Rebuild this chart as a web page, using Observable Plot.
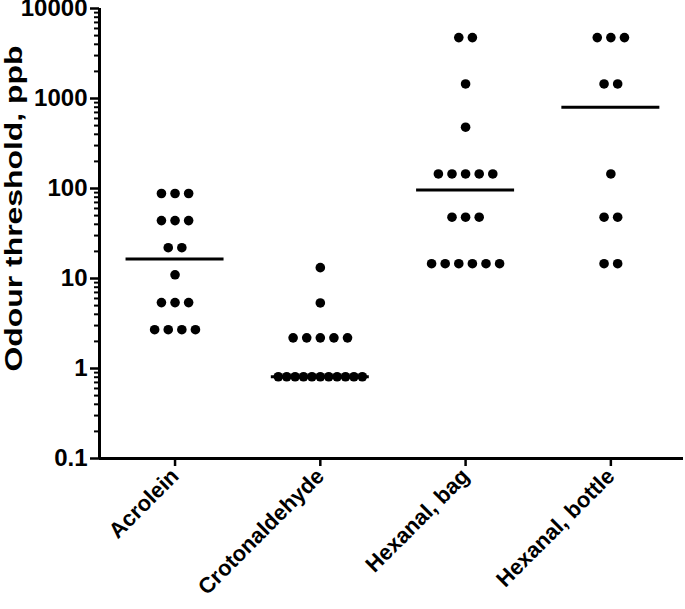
<!DOCTYPE html>
<html>
<head>
<meta charset="utf-8">
<script src="https://cdn.jsdelivr.net/npm/d3@7"></script>
<script src="https://cdn.jsdelivr.net/npm/@observablehq/plot@0.6"></script>
<style>
  html, body { margin: 0; padding: 0; background: #fff; }
  svg { font-family: "Liberation Sans", Arial, sans-serif; font-weight: bold; }
</style>
</head>
<body>
<div id="chart"></div>
<script>
// ---- data ----
const categories = ["Acrolein", "Crotonaldehyde", "Hexanal, bag", "Hexanal, bottle"];
const acrolein = [88, 88, 88, 44, 44, 44, 22, 22, 11, 5.4, 5.4, 5.4, 2.7, 2.7, 2.7, 2.7];
const crotonaldehyde = [13.2, 5.35, 2.19, 2.19, 2.19, 2.19, 2.19,
  0.81, 0.81, 0.81, 0.81, 0.81, 0.81, 0.81, 0.81, 0.81, 0.81, 0.81];
const hexanalBag = [4750, 4750, 1450, 480, 145, 145, 145, 145, 145, 48, 48, 48,
  14.6, 14.6, 14.6, 14.6, 14.6, 14.6];
const hexanalBottle = [4750, 4750, 4750, 1450, 1450, 145, 48, 48, 14.6, 14.6];
const seriesValues = [acrolein, crotonaldehyde, hexanalBag, hexanalBottle];
const yTicks = [0.1, 1, 10, 100, 1000, 10000];
const yTickLabels = ["0.1", "1", "10", "100", "1000", "10000"];
const yTitle = "Odour threshold, ppb";

// ---- layout ----
const width = 685, height = 609;
const marginLeft = 99, marginRight = 2, marginTop = 8, marginBottom = 151;
const xDomain = [-0.52, 3.5];
const pxPerUnit = (width - marginLeft - marginRight) / (xDomain[1] - xDomain[0]);
const dotSpacing = 13.6;   // px between dots in a row
const maxRowSpan = 84;     // px, widest a row may spread
const medianHalf = 49 / pxPerUnit;

// build points: dots with same value in a column are spread in a centred row
const points = [];
seriesValues.forEach((vals, ci) => {
  const groups = d3.group(vals, v => v);
  for (const [v, arr] of groups) {
    const n = arr.length;
    const sp = n > 1 ? Math.min(dotSpacing, maxRowSpan / (n - 1)) : 0;
    arr.forEach((_, i) => {
      points.push({cat: categories[ci], ci, value: v, x: ci + (i - (n - 1) / 2) * sp / pxPerUnit});
    });
  }
});
const medians = seriesValues.map((vals, ci) => ({ci, median: d3.median(vals)}));

const minorTicks = d3.scaleLog().domain([0.1, 10000]).ticks().filter(t => !yTicks.includes(t));

const chart = Plot.plot({
  width, height, marginLeft, marginRight, marginTop, marginBottom,
  style: {fontFamily: '"Liberation Sans", Arial, sans-serif', fontWeight: "bold", color: "#000", background: "#fff"},
  x: {type: "linear", domain: xDomain, axis: null},
  y: {type: "log", domain: [0.1, 10000], axis: null},
  marks: [
    Plot.axisY({ticks: minorTicks, tickSize: 5, tickFormat: null, strokeWidth: 2, label: null, text: null}),
    Plot.axisY({ticks: yTicks, tickSize: 9, tickPadding: 3, strokeWidth: 2.5, fontSize: 24,
      tickFormat: (d) => yTickLabels[yTicks.indexOf(d)], label: null}),
    Plot.axisX({ticks: [0, 1, 2, 3], tickSize: 8, tickPadding: 6, strokeWidth: 2.5, fontSize: 22,
      tickRotate: -45, tickFormat: (i) => categories[i], label: null}),
    Plot.text([yTitle], {frameAnchor: "left", text: d => d, dx: -85, dy: -25, rotate: -90,
      fontSize: 24, fontWeight: "bold", textAnchor: "middle", lineAnchor: "middle", fill: "#000"}),
    Plot.ruleX([xDomain[0]], {strokeWidth: 3}),
    Plot.ruleY([0.1], {strokeWidth: 3}),
    Plot.ruleY(medians, {y: "median", x1: d => d.ci - medianHalf, x2: d => d.ci + medianHalf, strokeWidth: 3}),
    Plot.dot(points, {x: "x", y: "value", r: 4.8, fill: "#000", stroke: null})
  ]
});
// stretch the axis title along its reading direction, as in the reference
d3.select(chart).selectAll("text").filter(function() { return this.textContent === yTitle; })
  .each(function() {
    const t = this.getAttribute("transform") || "";
    if (t.includes("rotate")) this.setAttribute("transform", t + " scale(1.33,1)");
    else this.setAttribute("transform", t + " rotate(-90) scale(1.33,1)");
  });
document.getElementById("chart").appendChild(chart);
</script>
</body>
</html>
